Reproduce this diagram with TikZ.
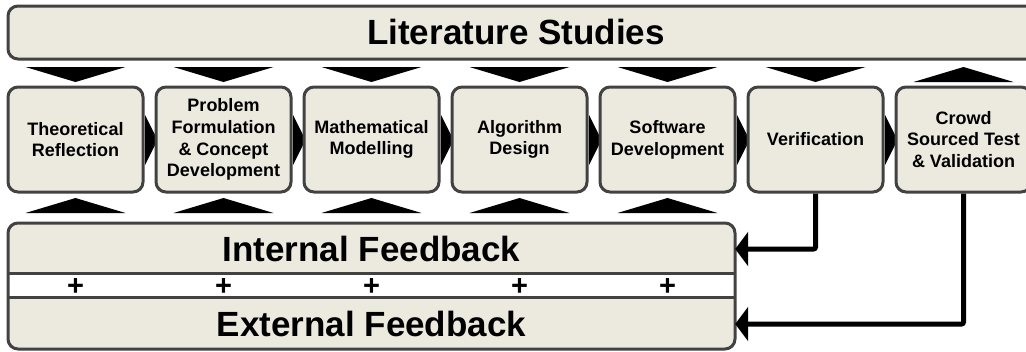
\documentclass[tikz,border=0pt]{standalone}
\usepackage{fontspec}
\setmainfont{Liberation Sans}
\usetikzlibrary{arrows.meta}
\definecolor{beige}{RGB}{236,233,223}
\definecolor{bordc}{RGB}{66,66,66}
\tikzset{
  stepbox/.style={draw=bordc, fill=beige, line width=3pt, rounded corners=10pt,
    minimum width=135pt, minimum height=105pt, inner sep=0pt, align=center,
    font=\bfseries\fontsize{18}{21.7}\selectfont},
  bigtext/.style={font=\bfseries\fontsize{35}{40}\selectfont, inner sep=0pt},
  plustext/.style={font=\bfseries\fontsize{29}{30}\selectfont, inner sep=0pt},
  fbline/.style={line width=5pt, rounded corners=2pt, -{Triangle[length=13pt,width=34pt]}},
  tri/.style={fill=black}
}
\begin{document}
\begin{tikzpicture}[x=1pt,y=-1pt]
\useasboundingbox (0,0) rectangle (1026,351);
% literature box
\node[draw=bordc, fill=beige, line width=3pt, rounded corners=10pt,
  minimum width=1030pt, minimum height=53pt, inner sep=0pt] (lit) at (523,32.5) {};
\node[bigtext] (littext) at (516,32) {Literature Studies};
% triangles between boxes (drawn first, under boxes)
\foreach \c in {75.5,223.5,371.5,519.5,667.5,815.5} {
  \fill[tri] (\c+69.5,115) -- (\c+82,140) -- (\c+69.5,165) -- cycle;
}
% step boxes
\node[stepbox] (b1) at (75.5,139.5) {Theoretical\\Reflection};
\node[stepbox] (b2) at (223.5,139.5) {Problem\\Formulation\\\& Concept\\Development};
\node[stepbox] (b3) at (371.5,139.5) {Mathematical\\Modelling};
\node[stepbox] (b4) at (519.5,139.5) {Algorithm\\Design};
\node[stepbox] (b5) at (667.5,139.5) {Software\\Development};
\node[stepbox] (b6) at (815.5,139.5) {Verification};
\node[stepbox] (b7) at (963.5,139.5) {Crowd\\Sourced Test\\\& Validation};
% triangles from literature
\foreach \c in {75.5,223.5,371.5,519.5,667.5,815.5} {
  \fill[tri] (\c-50,67) -- (\c+50,67) -- (\c,82) -- cycle;
}
\fill[tri] (913.5,82) -- (1013.5,82) -- (963.5,67) -- cycle;
% triangles towards feedback
\foreach \c in {75.5,223.5,371.5,519.5,667.5} {
  \fill[tri] (\c-50,213) -- (\c+50,213) -- (\c,198) -- cycle;
}
% feedback frame
\begin{scope}
  \clip[rounded corners=10pt] (8,223) rectangle (735,349);
  \fill[white] (8,223) rectangle (735,349);
  \fill[beige] (8,223) rectangle (735,273);
  \fill[beige] (8,297) rectangle (735,349);
\end{scope}
\draw[bordc, line width=3pt] (8,273) -- (735,273) (8,297) -- (735,297);
\draw[bordc, line width=3pt, rounded corners=10pt] (8,223) rectangle (735,349);
\node[bigtext, minimum width=727pt, minimum height=50pt] (intfb) at (371.5,249) {Internal Feedback};
\node[bigtext, minimum width=727pt, minimum height=50pt] (extfb) at (371.5,324) {External Feedback};
\foreach \c/\n in {75.5/p1,223.5/p2,371.5/p3,519.5/p4,667.5/p5} {
  \node[plustext] (\n) at (\c,287) {+};
}
% feedback connectors
\draw[fbline] (b6.south) |- (intfb.east);
\draw[fbline] (b7.south) |- (extfb.east);
\end{tikzpicture}
\end{document}
